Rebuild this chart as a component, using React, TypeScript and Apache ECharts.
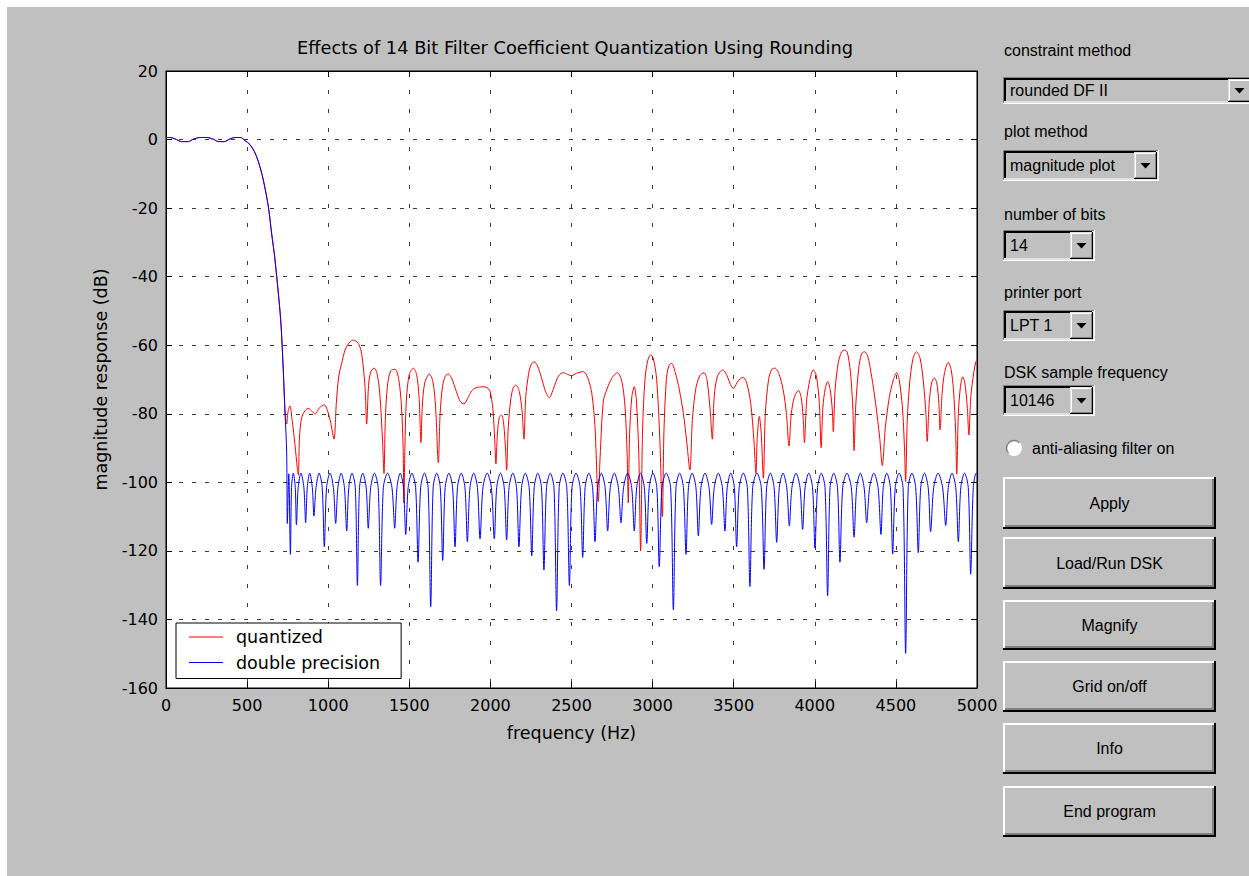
import React, { useEffect, useRef } from "react";
import * as echarts from "echarts";

const TITLE = "Effects of 14 Bit Filter Coefficient Quantization Using Rounding";
const X_NAME = "frequency (Hz)";
const Y_NAME = "magnitude response (dB)";
const X_MIN = 0, X_MAX = 5000, X_STEP = 500;
const Y_MIN = -160, Y_MAX = 20, Y_STEP = 20;
const SERIES_NAMES = ["quantized", "double precision"];

// passband + transition band (both curves coincide)
const SHARED: number[][] = [
  [0, 0.6], [25, 0.6], [55, 0.2], [97, -0.6], [138, -0.6], [168, 0.1], [210, 0.6], [251, 0.6],
  [292, 0.1], [323, -0.6], [358, -0.6], [395, 0.2], [425, 0.6], [460, 0.6], [487, -0.3],
  [518, -1.5], [545, -3.5], [570, -6.5], [600, -11.8], [631, -19.6], [651, -27.3], [672, -35.1],
  [707, -52.6], [723, -67.2], [734, -79.8],
];

// quantized-coefficient stopband (red)
const QUANT_STOP: number[][] = [
  [744, -83], [752, -79.5], [764, -77.7], [778, -82], [795, -89], [810, -96], [816, -97.9], [822, -88],
  [830, -83], [845, -80], [877, -78.4], [900, -79.3], [919, -80.1], [945, -78.3], [976, -77.4],
  [995, -79], [1015, -82.5], [1036, -87.4], [1050, -77], [1065, -69], [1083, -65.3], [1104, -61.4],
  [1134, -59], [1155, -58.5], [1186, -59.5], [1206, -62.4], [1227, -72.1], [1237, -83], [1250, -71],
  [1265, -67.5], [1283, -66.7], [1300, -68], [1318, -74], [1335, -88], [1344, -97.4], [1352, -82],
  [1365, -72], [1385, -67.5], [1412, -67], [1435, -70], [1452, -78], [1462, -90], [1467, -106],
  [1473, -90], [1482, -76], [1500, -68.5], [1525, -66.7], [1545, -68.5], [1560, -75], [1572, -88.4],
  [1580, -78], [1595, -71], [1624, -68.4], [1645, -70.5], [1662, -78], [1679, -94.3], [1690, -80],
  [1705, -72], [1722, -69], [1740, -68.4], [1760, -69.5], [1790, -73.5], [1815, -76.5], [1837, -77.1],
  [1860, -75.5], [1885, -73.3], [1910, -72.4], [1935, -72.2], [1960, -72.1], [1985, -72.6],
  [1998, -73.4], [2015, -78.5], [2027, -88], [2034, -94.6], [2043, -86], [2055, -81], [2069, -80.4],
  [2082, -83], [2094, -91], [2100, -96.4], [2110, -84], [2125, -76], [2140, -72.5], [2158, -71.6],
  [2178, -73.5], [2195, -79], [2207, -87.4], [2218, -75], [2235, -68.5], [2250, -65.8], [2269, -64.8],
  [2290, -66], [2315, -69.5], [2340, -73.5], [2363, -75.3], [2390, -72.5], [2420, -69], [2449, -68],
  [2475, -68.5], [2501, -68.9], [2530, -68.2], [2573, -67.7], [2600, -69.5], [2625, -74], [2645, -84],
  [2665, -105.6], [2676, -93], [2696, -76.4], [2717, -73], [2750, -69.5], [2783, -68], [2810, -70.5],
  [2830, -78], [2843, -92], [2850, -106], [2858, -86], [2872, -75], [2887, -72.1], [2900, -76],
  [2915, -92], [2926, -120], [2938, -85], [2953, -70], [2970, -64.5], [2988, -62.8], [3005, -64],
  [3025, -70], [3045, -88], [3060, -110], [3070, -85], [3085, -70], [3100, -66], [3117, -65.3],
  [3140, -68], [3165, -73], [3190, -80], [3210, -88], [3230, -96.4], [3245, -82], [3265, -73],
  [3290, -69], [3317, -68], [3335, -70], [3355, -79], [3368, -87.4], [3380, -75], [3400, -69],
  [3432, -67.2], [3460, -69], [3480, -71.5], [3498, -72.6], [3520, -71], [3540, -69.8], [3559, -69.4],
  [3580, -71], [3605, -77], [3625, -88], [3637, -97.4], [3645, -87], [3658, -80.8], [3670, -86],
  [3683, -98.8], [3695, -80], [3715, -70], [3735, -67], [3755, -66.7], [3780, -68.5], [3805, -73],
  [3825, -80], [3841, -89.4], [3855, -80], [3875, -75], [3899, -73.2], [3915, -75], [3928, -81],
  [3936, -88.4], [3950, -76], [3970, -70], [3991, -67.2], [4010, -69], [4028, -77], [4039, -89.9],
  [4050, -78], [4065, -72.5], [4080, -70.6], [4095, -73], [4108, -79], [4114, -85.2], [4125, -73],
  [4145, -65], [4165, -62], [4182, -61.4], [4200, -62], [4220, -68], [4235, -79], [4242, -90.8],
  [4252, -78], [4270, -67], [4288, -62.5], [4305, -61.9], [4325, -63], [4350, -69], [4375, -77],
  [4400, -87], [4416, -95.1], [4435, -84], [4460, -75], [4485, -70], [4505, -68], [4520, -70],
  [4540, -78], [4553, -90], [4560, -99.8], [4570, -82], [4585, -71], [4605, -64], [4628, -61.9],
  [4650, -64], [4670, -71], [4685, -80], [4693, -88.1], [4705, -77], [4720, -71], [4737, -69.5],
  [4752, -71], [4765, -77], [4772, -84.7], [4785, -74], [4800, -68], [4823, -65], [4840, -67],
  [4855, -73], [4868, -85], [4875, -97.6], [4885, -80], [4898, -72], [4912, -69.2], [4925, -71],
  [4940, -78], [4950, -86.2], [4962, -75], [4980, -68], [4993, -64.8], [5000, -64.5],
];

// double-precision stopband (blue): null, shoulder, peak, shoulder ...
const DOUBLE_STOP: number[][] = [
  [744, -91.4], [748, -112], [757, -97.5], [767, -121],
  [774, -101.5], [785, -97.3], [797, -101.5], [804, -112.4],
  [815, -101.5], [832, -97.3], [850, -101.5], [861, -111.8],
  [871, -101.5], [886, -97.3], [902, -101.5], [912, -109.8],
  [925, -101.5], [944, -97.3], [963, -101.5], [976, -118.8],
  [990, -101.5], [1011, -97.3], [1032, -101.5], [1046, -112],
  [1060, -101.5], [1080, -97.3], [1100, -101.5], [1114, -114.2],
  [1127, -101.5], [1147, -97.3], [1167, -101.5], [1180, -130.1],
  [1193, -101.5], [1213, -97.3], [1234, -101.5], [1247, -113.4],
  [1262, -101.5], [1285, -97.3], [1308, -101.5], [1323, -130.1],
  [1340, -101.5], [1366, -97.3], [1393, -101.5], [1410, -113.4],
  [1424, -101.5], [1444, -97.3], [1464, -101.5], [1478, -115.2],
  [1493, -101.5], [1516, -97.3], [1539, -101.5], [1554, -123.3],
  [1570, -101.5], [1593, -97.3], [1616, -101.5], [1632, -136.3],
  [1647, -101.5], [1669, -97.3], [1691, -101.5], [1706, -122.8],
  [1721, -101.5], [1744, -97.3], [1767, -101.5], [1782, -118.8],
  [1797, -101.5], [1820, -97.3], [1843, -101.5], [1858, -117.3],
  [1874, -101.5], [1897, -97.3], [1920, -101.5], [1936, -116.5],
  [1954, -101.5], [1980, -97.3], [2006, -101.5], [2024, -116.5],
  [2039, -101.5], [2062, -97.3], [2085, -101.5], [2100, -116.8],
  [2115, -101.5], [2138, -97.3], [2161, -101.5], [2176, -118.8],
  [2192, -101.5], [2215, -97.3], [2239, -101.5], [2255, -121.4],
  [2270, -101.5], [2292, -97.3], [2315, -101.5], [2330, -125.6],
  [2346, -101.5], [2369, -97.3], [2392, -101.5], [2408, -137.5],
  [2424, -101.5], [2447, -97.3], [2471, -101.5], [2487, -130.1],
  [2503, -101.5], [2528, -97.3], [2553, -101.5], [2569, -121.9],
  [2584, -101.5], [2607, -97.3], [2630, -101.5], [2645, -117.3],
  [2661, -101.5], [2684, -97.3], [2707, -101.5], [2723, -114.2],
  [2739, -101.5], [2764, -97.3], [2789, -101.5], [2805, -111.8],
  [2821, -101.5], [2846, -97.3], [2871, -101.5], [2887, -114.2],
  [2902, -101.5], [2925, -97.3], [2949, -101.5], [2964, -117.8],
  [2979, -101.5], [3002, -97.3], [3026, -101.5], [3041, -124.6],
  [3058, -101.5], [3084, -97.3], [3111, -101.5], [3128, -137.2],
  [3144, -101.5], [3167, -97.3], [3190, -101.5], [3206, -121],
  [3221, -101.5], [3244, -97.3], [3267, -101.5], [3282, -115.6],
  [3298, -101.5], [3323, -97.3], [3348, -101.5], [3364, -112.3],
  [3380, -101.5], [3405, -97.3], [3430, -101.5], [3446, -114.2],
  [3460, -101.5], [3482, -97.3], [3504, -101.5], [3518, -118.8],
  [3534, -101.5], [3559, -97.3], [3584, -101.5], [3600, -130.4],
  [3617, -101.5], [3643, -97.3], [3670, -101.5], [3687, -125.4],
  [3703, -101.5], [3726, -97.3], [3749, -101.5], [3765, -117.5],
  [3781, -101.5], [3804, -97.3], [3827, -101.5], [3843, -112.7],
  [3859, -101.5], [3884, -97.3], [3909, -101.5], [3925, -113.7],
  [3940, -101.5], [3963, -97.3], [3986, -101.5], [4001, -119.2],
  [4017, -101.5], [4040, -97.3], [4063, -101.5], [4079, -133.1],
  [4094, -101.5], [4117, -97.3], [4140, -101.5], [4155, -123.3],
  [4172, -101.5], [4198, -97.3], [4225, -101.5], [4242, -116],
  [4258, -101.5], [4281, -97.3], [4304, -101.5], [4320, -111.8],
  [4338, -101.5], [4364, -97.3], [4390, -101.5], [4408, -115.2],
  [4422, -101.5], [4444, -97.3], [4466, -101.5], [4480, -120.9],
  [4496, -101.5], [4520, -97.3], [4544, -101.5], [4560, -149.9],
  [4576, -101.5], [4599, -97.3], [4622, -101.5], [4638, -120.5],
  [4653, -101.5], [4676, -97.3], [4699, -101.5], [4714, -114.4],
  [4733, -101.5], [4760, -97.3], [4788, -101.5], [4807, -112.6],
  [4823, -101.5], [4846, -97.3], [4869, -101.5], [4885, -117.3],
  [4900, -101.5], [4923, -97.3], [4946, -101.5], [4961, -126.8],
  [4977, -101.5], [4995, -97.3], [5000, -97.5],
];

// GUI panel texts
const LABELS = ["constraint method", "plot method", "number of bits", "printer port", "DSK sample frequency"];
const POPUP_VALUES = ["rounded DF II", "magnitude plot", "14", "LPT 1", "10146"];
const RADIO_LABEL = "anti-aliasing filter on";
const BUTTONS = ["Apply", "Load/Run DSK", "Magnify", "Grid on/off", "Info", "End program"];

const O = 7; // container offset on the page
const GUI_FONT = "Liberation Sans";
const PLOT_FONT = "DejaVu Sans";

function rect(x: number, y: number, w: number, h: number, fill: string) {
  return { type: "rect", silent: true, shape: { x: x - O, y: y - O, width: w, height: h }, style: { fill } };
}
function bevel(x: number, y: number, w: number, h: number, c: any, t1: number, t2: number) {
  return [
    rect(x, y, w, h, c.brO),
    rect(x, y, w - t1, h - t1, c.tlO),
    rect(x + t1, y + t1, w - 2 * t1, h - 2 * t1, c.brI),
    rect(x + t1, y + t1, w - 2 * t1 - t2, h - 2 * t1 - t2, c.tlI),
    rect(x + t1 + t2, y + t1 + t2, w - 2 * (t1 + t2), h - 2 * (t1 + t2), c.face),
  ];
}
function text(x: number, y: number, s: string, align = "left", size = 16, family = GUI_FONT) {
  return {
    type: "text", silent: true, x: x - O, y: y - O,
    style: { text: s, fill: "#000", fontSize: size, fontFamily: family, align, verticalAlign: "middle", textAlign: align, textVerticalAlign: "middle" },
  };
}
const RAISED = { tlO: "#ffffff", brO: "#000000", tlI: "#c0c0c0", brI: "#808080", face: "#c0c0c0" };
const ARROWBTN = { tlO: "#dfdfdf", brO: "#000000", tlI: "#ffffff", brI: "#808080", face: "#c0c0c0" };
const SUNKEN = { tlO: "#808080", brO: "#ffffff", tlI: "#000000", brI: "#dfdfdf", face: "#c0c0c0" };

function popup(x: number, y: number, w: number, h: number, value: string) {
  const bw = 23;
  const bx = x + w - 2 - bw;
  const by = y + 2;
  const bh = h - 4;
  const cx = bx + bw / 2 - O;
  const cy = by + bh / 2 - O;
  return [
    ...bevel(x, y, w, h, SUNKEN, 1, 2),
    ...bevel(bx, by, bw, bh, ARROWBTN, 1, 1),
    { type: "polygon", silent: true, shape: { points: [[cx - 5, cy - 2.5], [cx + 5, cy - 2.5], [cx, cy + 3]] }, style: { fill: "#000" } },
    text(x + 7, y + h / 2, value),
  ];
}

function buildGui() {
  const els: any[] = [];
  const labelY = [50, 131, 214, 292, 372];
  LABELS.forEach((l, i) => els.push(text(1004, labelY[i], l)));
  const pop = [
    [1003, 77, 250, 27],
    [1003, 150, 156, 31],
    [1003, 230, 92, 31],
    [1003, 310, 92, 31],
    [1003, 385, 92, 31],
  ];
  pop.forEach((p, i) => els.push(...popup(p[0], p[1], p[2], p[3], POPUP_VALUES[i])));
  // radio button
  els.push({ type: "circle", silent: true, shape: { cx: 1014 - O, cy: 448 - O, r: 8 }, style: { fill: "#ffffff" } });
  els.push({
    type: "arc", silent: true,
    shape: { cx: 1014 - O, cy: 448 - O, r: 7.5, startAngle: Math.PI * 0.75, endAngle: Math.PI * 1.75, clockwise: true },
    style: { stroke: "#808080", lineWidth: 1.5, fill: "none" },
  });
  els.push(text(1032, 448, RADIO_LABEL));
  const btn = [
    [477, 52], [537, 52], [600, 50], [661, 51], [723, 51], [786, 51],
  ];
  btn.forEach((b, i) => {
    els.push(...bevel(1003, b[0], 213, b[1], RAISED, 2, 2));
    els.push(text(1003 + 213 / 2, b[0] + b[1] / 2, BUTTONS[i], "center"));
  });
  return els;
}

export default function App() {
  const ref = useRef<HTMLDivElement>(null);
  useEffect(() => {
    if (!ref.current) return;
    const chart = echarts.init(ref.current, null, { renderer: "svg" });
    const gridLine = { color: "#3a3a3a", width: 1 };
    const axisBlack = { color: "#000", width: 1 };
    const plain = (v: number) => String(v);
    const option: any = {
      animation: false,
      backgroundColor: "#c0c0c0",
      title: {
        text: TITLE, left: 570 - O, top: 26, textAlign: "center",
        textStyle: { fontFamily: PLOT_FONT, fontSize: 17.8, fontWeight: "normal", color: "#000" },
      },
      legend: {
        data: SERIES_NAMES, orient: "vertical", left: 176 - O, top: 623 - O,
        backgroundColor: "#ffffff", borderColor: "#000", borderWidth: 1,
        padding: [5, 21, 7, 13], itemWidth: 34, itemHeight: 1, itemGap: 7.5,
        icon: "rect",
        selectedMode: false,
        textStyle: { fontFamily: PLOT_FONT, fontSize: 17.5, color: "#000", padding: [0, 0, 0, 8] },
      },
      grid: { left: 166 - O, top: 71 - O, width: 811, height: 617, show: true, backgroundColor: "#ffffff", borderColor: "#000", borderWidth: 1 },
      xAxis: [
        {
          type: "value", min: X_MIN, max: X_MAX, interval: X_STEP, position: "bottom",
          axisLine: { show: true, onZero: false, lineStyle: axisBlack },
          axisTick: { show: true, inside: true, length: 6, lineStyle: axisBlack },
          axisLabel: { color: "#000", fontFamily: PLOT_FONT, fontSize: 16, margin: 9, showMinLabel: true, showMaxLabel: true, formatter: plain },
          splitLine: { show: true, lineStyle: { ...gridLine, type: [4, 15] } },
          name: X_NAME, nameLocation: "middle", nameGap: 36,
          nameTextStyle: { color: "#000", fontFamily: PLOT_FONT, fontSize: 17.5 },
        },
        {
          type: "value", min: X_MIN, max: X_MAX, interval: X_STEP, position: "top",
          axisLine: { show: true, onZero: false, lineStyle: axisBlack },
          axisTick: { show: true, inside: true, length: 6, lineStyle: axisBlack },
          axisLabel: { show: false }, splitLine: { show: false },
        },
      ],
      yAxis: [
        {
          type: "value", min: Y_MIN, max: Y_MAX, interval: Y_STEP, position: "left",
          axisLine: { show: true, onZero: false, lineStyle: axisBlack },
          axisTick: { show: true, inside: true, length: 6, lineStyle: axisBlack },
          axisLabel: { color: "#000", fontFamily: PLOT_FONT, fontSize: 16, margin: 8, showMinLabel: true, showMaxLabel: true, formatter: plain },
          splitLine: { show: true, lineStyle: { ...gridLine, type: [4, 9] } },
          name: Y_NAME, nameLocation: "middle", nameGap: 56,
          nameTextStyle: { color: "#000", fontFamily: PLOT_FONT, fontSize: 17.5 },
        },
        {
          type: "value", min: Y_MIN, max: Y_MAX, interval: Y_STEP, position: "right",
          axisLine: { show: true, onZero: false, lineStyle: axisBlack },
          axisTick: { show: true, inside: true, length: 6, lineStyle: axisBlack },
          axisLabel: { show: false }, splitLine: { show: false },
        },
      ],
      series: [
        {
          name: SERIES_NAMES[0], type: "line", data: [...SHARED, ...QUANT_STOP],
          symbol: "none", showSymbol: false, smooth: 0.3, z: 2,
          lineStyle: { color: "#ff0000", width: 1 }, itemStyle: { color: "#ff0000" },
        },
        {
          name: SERIES_NAMES[1], type: "line", data: [...SHARED, ...DOUBLE_STOP],
          symbol: "none", showSymbol: false, smooth: 0.3, z: 3,
          lineStyle: { color: "#0000ff", width: 1 }, itemStyle: { color: "#0000ff" },
        },
      ],
      graphic: buildGui(),
    };
    chart.setOption(option);
    return () => chart.dispose();
  }, []);
  return (
    <div
      ref={ref}
      style={{ position: "absolute", left: O, top: O, width: 1249 - O, height: 876 - O, background: "#c0c0c0" }}
    />
  );
}
